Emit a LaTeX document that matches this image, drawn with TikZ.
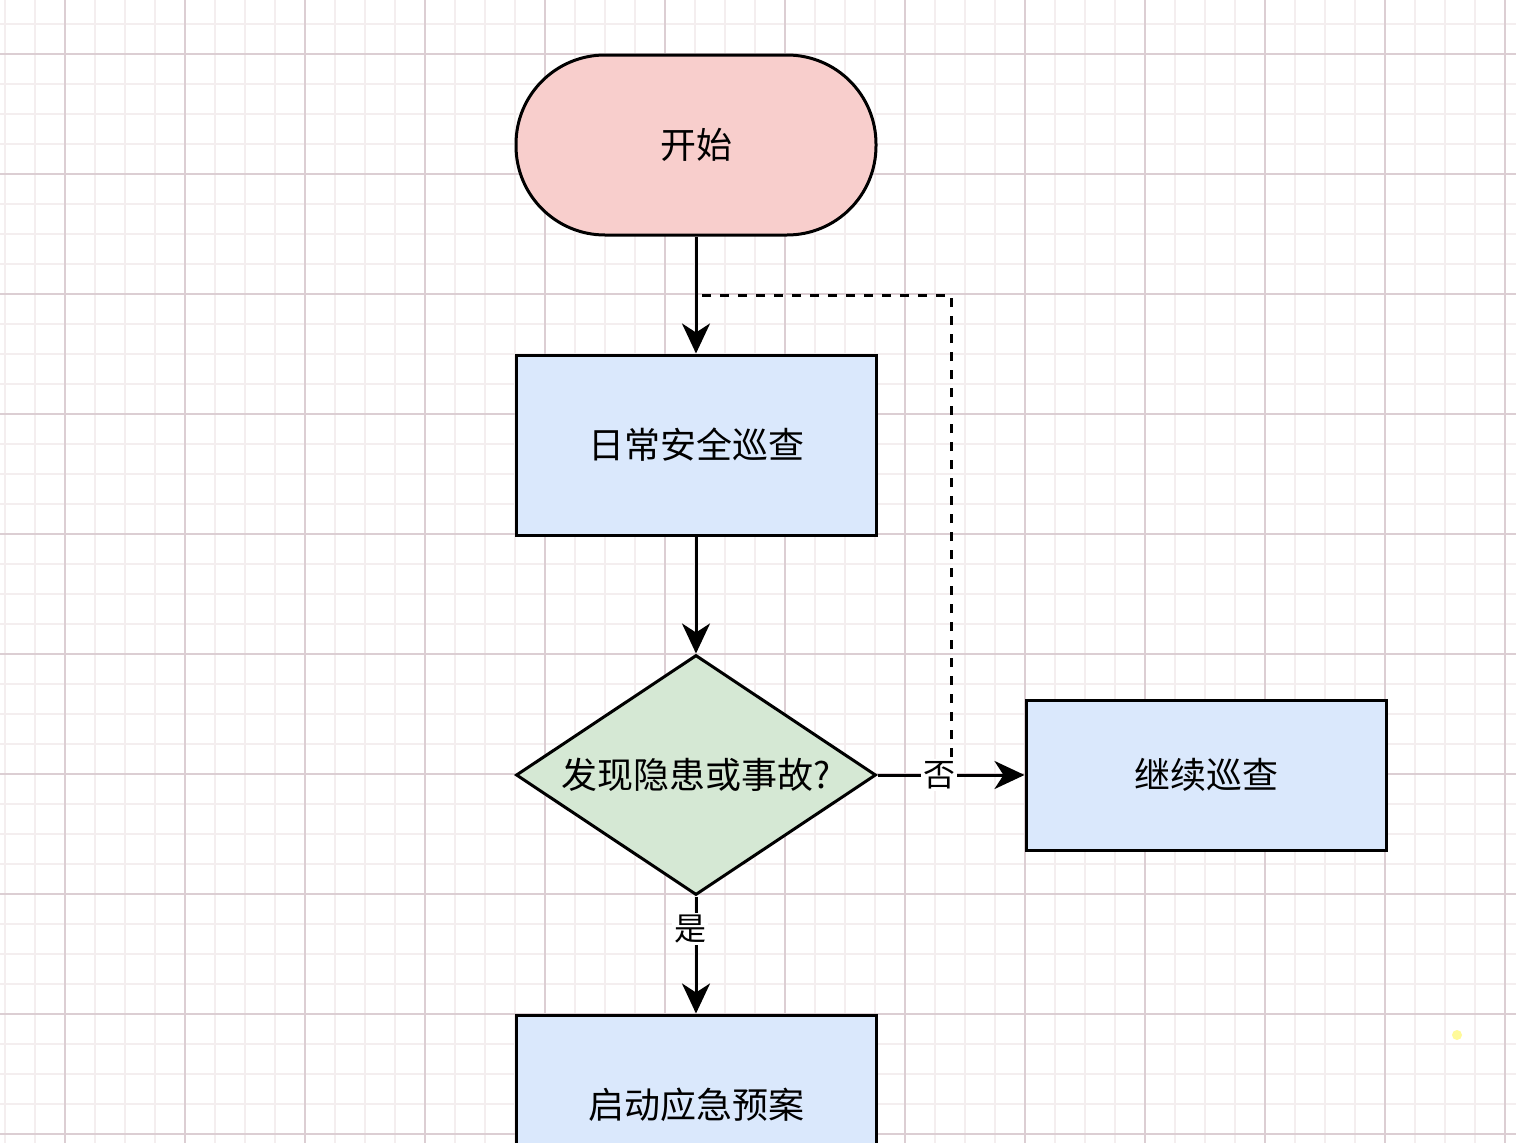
\documentclass[tikz,border=0pt]{standalone}
\usepackage{fontspec}
\setmainfont{Noto Sans CJK SC}
\usetikzlibrary{shapes.geometric,arrows.meta}
\definecolor{gmaj}{HTML}{DCCED3}
\definecolor{gmin}{HTML}{F4EEEF}
\definecolor{startfill}{HTML}{F8CECC}
\definecolor{boxfill}{HTML}{DAE8FC}
\definecolor{decfill}{HTML}{D5E8D4}
\begin{document}
\begin{tikzpicture}[x=1pt,y=-1pt,
  base/.style={draw=black, line width=3pt, font=\fontsize{36}{40}\selectfont, inner sep=0pt},
  procbox/.style={base, rectangle, fill=boxfill, minimum width=360pt, minimum height=180pt},
  startbox/.style={base, rectangle, rounded corners=89pt, fill=startfill, minimum width=360pt, minimum height=180pt},
  decbox/.style={base, diamond, fill=decfill, minimum width=360pt, minimum height=240pt},
  flow/.style={line width=3pt, -{Stealth[length=30pt,width=28pt,inset=9pt]}},
  lbl/.style={fill=white, inner sep=2pt, font=\fontsize{32}{36}\selectfont, text=black},
  loopline/.style={line width=3pt, dash pattern=on 9pt off 9pt}
]
\useasboundingbox (0,0) rectangle (1516,1143);
\clip (0,0) rectangle (1516,1143);
\fill[white] (0,0) rectangle (1516,1143);
% grid
\foreach \i in {0,...,50} {
  \draw[gmin, line width=2pt] ({5+30*\i},0) -- ({5+30*\i},1143);
}
\foreach \i in {0,...,38} {
  \draw[gmin, line width=2pt] (0,{24+30*\i}) -- (1516,{24+30*\i});
}
\foreach \i in {0,...,12} {
  \draw[gmaj, line width=1.6pt] ({65+120*\i},0) -- ({65+120*\i},1143);
}
\foreach \i in {0,...,9} {
  \draw[gmaj, line width=1.6pt] (0,{54+120*\i}) -- (1516,{54+120*\i});
}
% nodes
\node[startbox] (s) at (696,145) {开始};
\node[procbox] (p) at (696,445) {日常安全巡查};
\node[decbox] (d) at (696,775) {};
\node[font=\fontsize{36}{40}\selectfont] (dt) at (696,775) {发现隐患或事故?};
\node[procbox, minimum height=150pt] (c) at (1206,775) {继续巡查};
\node[procbox] (e) at (696,1105) {启动应急预案};
% dashed loop
\coordinate (lpA) at (951,775);
\coordinate (lpB) at (951,295);
\coordinate (lpC) at (696,295);
\draw[loopline] (lpA) -- (lpB) -- (lpC);
% connectors
\draw[flow] (s) -- (p);
\draw[flow] (p) -- (d);
\draw[flow] (d.east) -- node[lbl, pos=0.42] {否} (c.west);
\draw[flow] (d.south) -- node[lbl, pos=0.275, xshift=-6pt] {是} (e.north);
\fill[yellow!40!white] (1457,1035) circle (5pt);
\end{tikzpicture}
\end{document}
